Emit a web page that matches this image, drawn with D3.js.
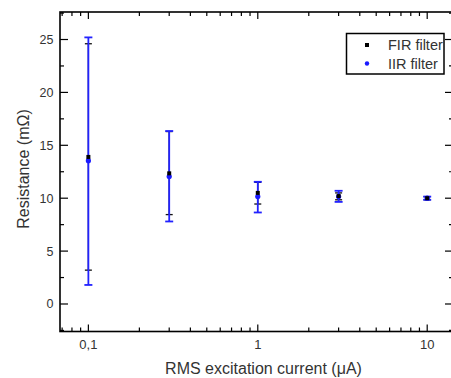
<!DOCTYPE html>
<html>
<head>
<meta charset="utf-8">
<script src="https://cdn.jsdelivr.net/npm/d3@7"></script>
<style>
  body { margin: 0; background: #fff; }
  text { font-family: "Liberation Sans", Arial, sans-serif; fill: #333; }
</style>
</head>
<body>
<svg id="chart" width="451" height="378"></svg>
<script>
// excitation current (uA)
var currents = [0.1, 0.3, 1, 3, 10];

// FIR filter: value and error bar ends (mOhm)
var firValue = [13.9, 12.35, 10.5, 10.2, 10.0];
var firHigh  = [24.6, 16.3, 11.5, 10.5, 10.15];
var firLow   = [3.2, 8.45, 9.45, 9.85, 9.85];

// IIR filter
var iirValue = [13.55, 12.05, 10.15, 10.15, 10.0];
var iirHigh  = [25.2, 16.35, 11.55, 10.7, 10.15];
var iirLow   = [1.8, 7.8, 8.65, 9.65, 9.85];

var xTickLabels = ['0,1', '1', '10'];
var yTicks = [0, 5, 10, 15, 20, 25];

var svg = d3.select('#chart');

// plot frame edges (note: "top" is taken by window.top)
var fLeft = 60, fRight = 453, fTop = 12, fBottom = 331.5;

var x = d3.scaleLog().domain([0.068, 14.2]).range([fLeft, fRight]);
var y = d3.scaleLinear().domain([-2.6, 27.6]).range([fBottom, fTop]);

var majorX = [0.1, 1, 10];
var minorX = [];
[0.01, 0.1, 1, 10].forEach(function (dec) {
  for (var k = 2; k <= 9; k++) {
    var v = dec * k;
    if (v > 0.068 && v < 14.2) minorX.push(v);
  }
});
var minorY = [-2.5, 2.5, 7.5, 12.5, 17.5, 22.5, 27.5];

// frame ticks, all pointing inward
var g = svg.append('g');
majorX.forEach(function (v) {
  g.append('line').attr('x1', x(v)).attr('x2', x(v)).attr('y1', fBottom).attr('y2', fBottom - 7);
  g.append('line').attr('x1', x(v)).attr('x2', x(v)).attr('y1', fTop).attr('y2', fTop + 7);
});
minorX.forEach(function (v) {
  g.append('line').attr('x1', x(v)).attr('x2', x(v)).attr('y1', fBottom).attr('y2', fBottom - 4);
  g.append('line').attr('x1', x(v)).attr('x2', x(v)).attr('y1', fTop).attr('y2', fTop + 4);
});
yTicks.forEach(function (v) {
  g.append('line').attr('x1', fLeft).attr('x2', fLeft + 8).attr('y1', y(v)).attr('y2', y(v));
  g.append('line').attr('x1', fRight).attr('x2', fRight - 8).attr('y1', y(v)).attr('y2', y(v));
});
minorY.forEach(function (v) {
  g.append('line').attr('x1', fLeft).attr('x2', fLeft + 4).attr('y1', y(v)).attr('y2', y(v));
  g.append('line').attr('x1', fRight).attr('x2', fRight - 4).attr('y1', y(v)).attr('y2', y(v));
});
g.selectAll('line').attr('stroke', '#000').attr('stroke-width', 1.2);

svg.append('rect')
  .attr('x', fLeft).attr('y', fTop)
  .attr('width', fRight - fLeft).attr('height', fBottom - fTop)
  .attr('fill', 'none').attr('stroke', '#000').attr('stroke-width', 1.6);

// tick labels
svg.selectAll('.xl').data(majorX).enter().append('text')
  .attr('x', function (d) { return x(d); })
  .attr('y', 349)
  .attr('text-anchor', 'middle')
  .style('font-size', '13px')
  .text(function (d, i) { return xTickLabels[i]; });

svg.selectAll('.yl').data(yTicks).enter().append('text')
  .attr('x', 53.5)
  .attr('y', function (d) { return y(d) + 4.5; })
  .attr('text-anchor', 'end')
  .style('font-size', '12.5px')
  .text(function (d) { return d; });

// axis titles
svg.append('text')
  .attr('x', 263.5).attr('y', 374)
  .attr('text-anchor', 'middle')
  .style('font-size', '16px')
  .text('RMS excitation current (\u03bcA)');

svg.append('text')
  .attr('text-anchor', 'middle')
  .attr('transform', 'translate(28.5,169)rotate(-90)')
  .style('font-size', '16px')
  .text('Resistance (m\u03a9)');

// error bars
function errorBars(lo, hi, color, width, cap) {
  var eb = svg.append('g').attr('stroke', color).attr('stroke-width', width);
  currents.forEach(function (c, i) {
    eb.append('line').attr('x1', x(c)).attr('x2', x(c)).attr('y1', y(lo[i])).attr('y2', y(hi[i]));
    eb.append('line').attr('x1', x(c) - cap).attr('x2', x(c) + cap).attr('y1', y(lo[i])).attr('y2', y(lo[i]));
    eb.append('line').attr('x1', x(c) - cap).attr('x2', x(c) + cap).attr('y1', y(hi[i])).attr('y2', y(hi[i]));
  });
}

errorBars(firLow, firHigh, '#111', 1.3, 3.5);
errorBars(iirLow, iirHigh, '#2222ff', 1.8, 4);

svg.append('g').selectAll('circle').data(iirValue).enter().append('circle')
  .attr('cx', function (d, i) { return x(currents[i]); })
  .attr('cy', function (d) { return y(d); })
  .attr('r', 2.6)
  .attr('fill', '#1a1aff');

svg.append('g').selectAll('rect').data(firValue).enter().append('rect')
  .attr('x', function (d, i) { return x(currents[i]) - 2; })
  .attr('y', function (d) { return y(d) - 2; })
  .attr('width', 4).attr('height', 4)
  .attr('fill', '#000');

// legend
var lg = svg.append('g');
lg.append('rect')
  .attr('x', 346.5).attr('y', 33.5)
  .attr('width', 97.5).attr('height', 40.5)
  .attr('fill', '#fff').attr('stroke', '#000').attr('stroke-width', 1.5);
lg.append('rect').attr('x', 365).attr('y', 43).attr('width', 4).attr('height', 4).attr('fill', '#000');
lg.append('circle').attr('cx', 367).attr('cy', 63.5).attr('r', 2.2).attr('fill', '#1a1aff');
lg.append('text').attr('x', 388).attr('y', 50).style('font-size', '14.5px').text('FIR filter');
lg.append('text').attr('x', 388).attr('y', 68.5).style('font-size', '14.5px').text('IIR filter');
</script>
</body>
</html>
